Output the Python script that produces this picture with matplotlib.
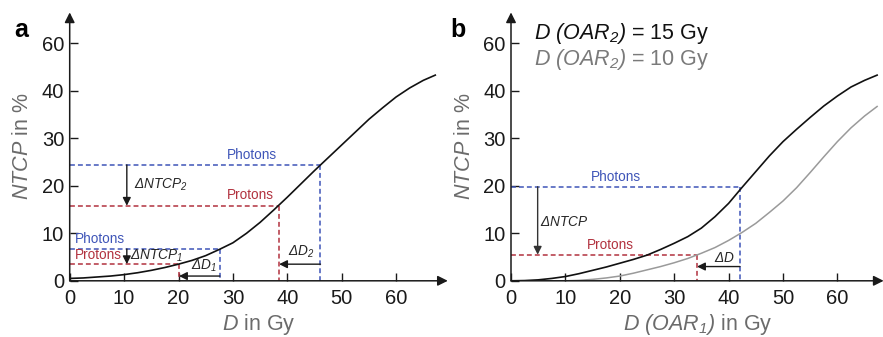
import matplotlib
matplotlib.use("Agg")
import matplotlib.pyplot as plt

plt.rcParams['font.family'] = ['Liberation Sans', 'DejaVu Sans']
plt.rcParams['mathtext.fontset'] = 'custom'
plt.rcParams['mathtext.rm'] = 'Liberation Sans:italic'
plt.rcParams['mathtext.it'] = 'Liberation Sans:italic'
plt.rcParams['mathtext.bf'] = 'Liberation Sans:bold'

# ---------------- data ----------------
# panel a: single NTCP curve
dose_a = [0, 2.5, 5, 7.5, 10, 12.5, 15, 17.5, 20, 22.5, 25, 27.5, 30, 32.5, 35, 37.5,
          40, 42.5, 45, 47.5, 50, 52.5, 55, 57.5, 60, 62.5, 65, 67.2]
ntcp_a = [0.5, 0.6, 0.8, 1.0, 1.3, 1.7, 2.2, 2.8, 3.5, 4.3, 5.3, 6.6, 8.0, 10.0, 12.3, 14.9,
          17.6, 20.4, 23.2, 25.9, 28.6, 31.3, 34.0, 36.4, 38.7, 40.6, 42.2, 43.3]

# panel a: photon / proton operating points (dose, NTCP)
a_photon_dose = [46.1, 27.6]
a_photon_ntcp = [24.4, 6.7]
a_proton_dose = [38.5, 20.1]
a_proton_ntcp = [15.8, 3.5]

# panel b: NTCP vs D(OAR1) for two D(OAR2) levels
dose_b15 = [0, 2.5, 5, 7.5, 10, 12.5, 15, 17.5, 20, 22.5, 25, 27.5, 30, 32.5, 35, 37.5,
            40, 42.5, 45, 47.5, 50, 52.5, 55, 57.5, 60, 62.5, 65, 67.3]
ntcp_b15 = [0.0, 0.05, 0.2, 0.5, 0.9, 1.5, 2.2, 2.9, 3.7, 4.5, 5.4, 6.6, 7.9, 9.3, 11.1, 13.5,
            16.3, 19.7, 23.0, 26.3, 29.3, 31.9, 34.4, 36.8, 38.9, 40.8, 42.2, 43.3]
dose_b10 = [0, 10, 12.5, 15, 17.5, 20, 22.5, 25, 27.5, 30, 32.5, 35, 37.5, 40, 42.5, 45,
            47.5, 50, 52.5, 55, 57.5, 60, 62.5, 65, 67.3]
ntcp_b10 = [0.0, 0.0, 0.1, 0.3, 0.6, 1.0, 1.6, 2.3, 3.0, 3.8, 4.7, 5.8, 7.0, 8.5, 10.2, 12.1,
            14.4, 16.8, 19.6, 22.8, 26.1, 29.3, 32.2, 34.7, 36.7]

b_photon_dose, b_photon_ntcp = 42.1, 19.8
b_proton_dose, b_proton_ntcp = 34.2, 5.5

ytick_pos = [0, 10, 20, 30, 40, 50]
ytick_lab = ['0', '10', '20', '30', '40', '60']
xtick_pos = [0, 10, 20, 30, 40, 50, 60]
xtick_lab = ['0', '10', '20', '30', '40', '50', '60']

legend_b = [r'$D\ (OAR_2)$ = 15 Gy', r'$D\ (OAR_2)$ = 10 Gy']

# ---------------- style ----------------
BLUE = '#3f55b8'
RED = '#b2323f'
GRAY_LINE = '#9a9a9a'
LABEL_GRAY = '#6b6b6b'
TXT = '#262626'
DASH = (0, (3.2, 2.0))
TFS = 14.5
LFS = 15.5

fig = plt.figure(figsize=(8.83, 3.37), dpi=100)
W, H = 883, 337
px_per_x = 5.44
px_per_y = 4.75
y0_px = 280.8
ytop = 56.5


def make_axes(left_px, xmax):
    ax = fig.add_axes([left_px / W, (H - y0_px) / H,
                       xmax * px_per_x / W, ytop * px_per_y / H])
    ax.set_xlim(0, xmax)
    ax.set_ylim(0, ytop)
    for s in ax.spines.values():
        s.set_visible(False)
    ax.set_xticks(xtick_pos)
    ax.set_xticklabels(xtick_lab)
    ax.set_yticks(ytick_pos)
    ax.set_yticklabels(ytick_lab)
    ax.tick_params(axis='both', direction='in', length=6, width=1.0,
                   labelsize=TFS, colors='#1a1a1a')
    ax.tick_params(axis='x', pad=6)
    ax.tick_params(axis='y', pad=4)
    ax.annotate('', xy=(xmax, 0), xytext=(0, 0), annotation_clip=False,
                arrowprops=dict(arrowstyle='-|>', lw=1.1, color='#1a1a1a',
                                mutation_scale=15, shrinkA=0, shrinkB=0))
    ax.annotate('', xy=(0, ytop), xytext=(0, 0), annotation_clip=False,
                arrowprops=dict(arrowstyle='-|>', lw=1.1, color='#1a1a1a',
                                mutation_scale=15, shrinkA=0, shrinkB=0))
    ax.set_ylabel(r'$NTCP$ in %', fontsize=LFS, color=LABEL_GRAY, labelpad=6)
    return ax


def varrow(ax, x, y1, y2, color='#1a1a1a'):
    ax.annotate('', xy=(x, y2), xytext=(x, y1),
                arrowprops=dict(arrowstyle='-|>', lw=1.0, color=color,
                                mutation_scale=12, shrinkA=0, shrinkB=0))


def harrow(ax, y, x1, x2, color='#1a1a1a'):
    ax.annotate('', xy=(x2, y), xytext=(x1, y),
                arrowprops=dict(arrowstyle='-|>', lw=1.0, color=color,
                                mutation_scale=12, shrinkA=0, shrinkB=0))


def op_point(ax, d, n, color):
    ax.plot([0, d], [n, n], color=color, lw=1.1, linestyle=DASH)
    ax.plot([d, d], [n, 0], color=color, lw=1.1, linestyle=DASH)


# ---------------- panel a ----------------
axa = make_axes(69.7, 69.5)
axa.set_xlabel(r'$D$ in Gy', fontsize=LFS, color=LABEL_GRAY, labelpad=2.5)
for d, n in zip(a_photon_dose, a_photon_ntcp):
    op_point(axa, d, n, BLUE)
for d, n in zip(a_proton_dose, a_proton_ntcp):
    op_point(axa, d, n, RED)
axa.plot(dose_a, ntcp_a, color='#111111', lw=1.2)

tfs = 9.8
axa.text(33.5, a_photon_ntcp[0] + 0.7, 'Photons', color=BLUE, fontsize=tfs, ha='center', va='bottom')
axa.text(33.3, a_proton_ntcp[0] + 0.7, 'Protons', color=RED, fontsize=tfs, ha='center', va='bottom')
axa.text(1.0, a_photon_ntcp[1] + 0.6, 'Photons', color=BLUE, fontsize=tfs, ha='left', va='bottom')
axa.text(1.0, a_proton_ntcp[1] + 0.4, 'Protons', color=RED, fontsize=tfs, ha='left', va='bottom')

varrow(axa, 10.5, a_photon_ntcp[0], a_proton_ntcp[0])
axa.text(11.8, 20.2, r'$ΔNTCP_{2}$', fontsize=tfs, color=TXT, ha='left', va='center')
varrow(axa, 10.5, a_photon_ntcp[1], a_proton_ntcp[1])
axa.text(11.0, 5.3, r'$ΔNTCP_{1}$', fontsize=tfs, color=TXT, ha='left', va='center')

harrow(axa, 1.0, a_photon_dose[1], a_proton_dose[1])
axa.text(24.6, 3.2, r'$ΔD_{1}$', fontsize=tfs, color=TXT, ha='center', va='center')
harrow(axa, 3.5, a_photon_dose[0], a_proton_dose[0])
axa.text(42.6, 6.0, r'$ΔD_{2}$', fontsize=tfs, color=TXT, ha='center', va='center')

fig.text(21 / W, 1 - 30 / H, 'a', fontsize=18, fontweight='bold', ha='center', va='center')

# ---------------- panel b ----------------
axb = make_axes(511, 68.5)
axb.set_xlabel(r'$D\ (OAR_1)$ in Gy', fontsize=LFS, color=LABEL_GRAY, labelpad=2.5)
op_point(axb, b_photon_dose, b_photon_ntcp, BLUE)
op_point(axb, b_proton_dose, b_proton_ntcp, RED)
axb.plot(dose_b10, ntcp_b10, color=GRAY_LINE, lw=1.1)
axb.plot(dose_b15, ntcp_b15, color='#111111', lw=1.2)

axb.text(19.2, b_photon_ntcp + 0.6, 'Photons', color=BLUE, fontsize=tfs, ha='center', va='bottom')
axb.text(18.2, b_proton_ntcp + 0.6, 'Protons', color=RED, fontsize=tfs, ha='center', va='bottom')
varrow(axb, 4.9, b_photon_ntcp, b_proton_ntcp, color='#333333')
axb.text(5.4, 12.4, r'$ΔNTCP$', fontsize=tfs, color=TXT, ha='left', va='center')
harrow(axb, 3.0, b_photon_dose, b_proton_dose)
axb.text(39.2, 4.9, r'$ΔD$', fontsize=tfs, color=TXT, ha='center', va='center')

fig.text(534 / W, 1 - 33 / H, legend_b[0], fontsize=LFS, color='#111111', ha='left', va='center')
fig.text(534 / W, 1 - 59 / H, legend_b[1], fontsize=LFS, color='#7a7a7a', ha='left', va='center')
fig.text(458 / W, 1 - 30 / H, 'b', fontsize=18, fontweight='bold', ha='center', va='center')

fig.savefig('out.png', dpi=100)
